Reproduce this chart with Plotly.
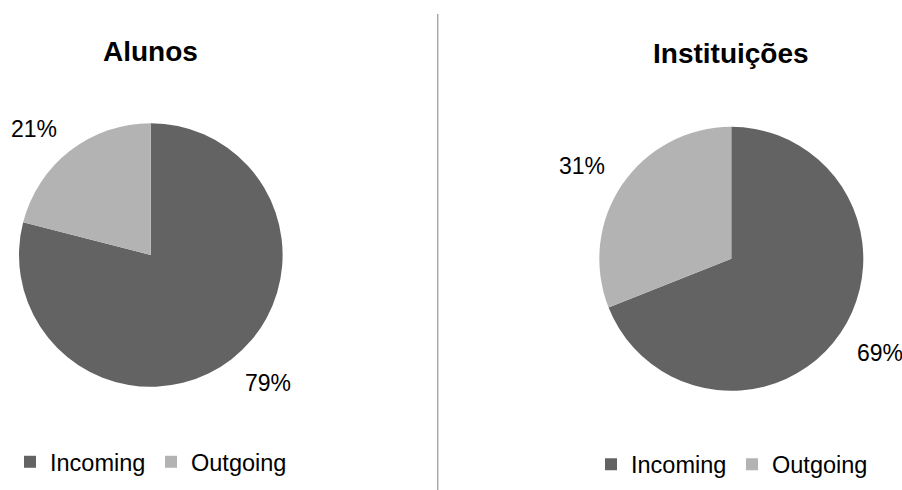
import math
import plotly.graph_objects as go

# ---- data ----
categories = ["Incoming", "Outgoing"]
alunos_values = [79, 21]
instituicoes_values = [69, 31]
titles = ["Alunos", "Instituições"]
colors = ["#636363", "#b3b3b3"]

# ---- layout constants (pixels) ----
W, H = 902, 490
FONT = "Liberation Sans, Arial, sans-serif"
pies = [
    dict(values=alunos_values, labels=categories, cx=150.8, cy=255.0, r=131.8,
         title=titles[0], ty=51, legend="legend", lx=10, ly=462),
    # trailing space keeps the second pie's legend entries separate (renders identically)
    dict(values=instituicoes_values, labels=[c + " " for c in categories], cx=731.3,
         cy=258.8, r=132.0, title=titles[1], ty=54, legend="legend2", lx=591, ly=464.5),
]

fig = go.Figure()
annotations = []
for p in pies:
    cy_up = H - p["cy"]
    fig.add_trace(go.Pie(
        labels=p["labels"], values=p["values"], sort=False, direction="clockwise",
        rotation=0, textinfo="none", hoverinfo="label+percent",
        marker=dict(colors=colors, line=dict(width=0)),
        domain=dict(x=[(p["cx"] - p["r"]) / W, (p["cx"] + p["r"]) / W],
                    y=[(cy_up - p["r"]) / H, (cy_up + p["r"]) / H]),
        legend=p["legend"], showlegend=True,
    ))
    # percentage labels placed outside each slice, from the data
    total = sum(p["values"])
    cum = 0
    gap = 18
    for v in p["values"]:
        mid = (cum + v / 2) / total * 2 * math.pi
        cum += v
        dx, dy = math.sin(mid), math.cos(mid)
        px = p["cx"] + (p["r"] + gap) * dx
        py = cy_up + (p["r"] + gap) * dy
        annotations.append(dict(
            text=f"{round(v / total * 100)}%", x=px / W, y=py / H,
            xref="paper", yref="paper", showarrow=False,
            xanchor="left" if dx > 0 else "right",
            yanchor="top" if dy < 0 else "bottom",
            yshift=5 if dy < 0 else -7,
            font=dict(family=FONT, size=23, color="#000000"),
        ))
    annotations.append(dict(
        text=f"<b>{p['title']}</b>", x=p["cx"] / W, y=(H - p["ty"]) / H,
        xref="paper", yref="paper", showarrow=False, xanchor="center", yanchor="middle",
        font=dict(family=FONT, size=28, color="#000000"),
    ))

legend_common = dict(orientation="h", xanchor="left", yanchor="middle",
                     font=dict(family=FONT, size=23.5, color="#000000"),
                     bgcolor="rgba(0,0,0,0)", itemclick=False, itemdoubleclick=False,
                     traceorder="normal", entrywidth=96, entrywidthmode="pixels")

fig.update_layout(
    width=W, height=H, margin=dict(l=0, r=0, t=0, b=0),
    paper_bgcolor="#ffffff", plot_bgcolor="#ffffff",
    font=dict(family=FONT, color="#000000"),
    annotations=annotations,
    legend=dict(x=pies[0]["lx"] / W, y=(H - pies[0]["ly"]) / H, **legend_common),
    legend2=dict(x=pies[1]["lx"] / W, y=(H - pies[1]["ly"]) / H, **legend_common),
    shapes=[dict(type="line", xref="paper", yref="paper",
                 x0=437.7 / W, x1=437.7 / W, y0=0, y1=(H - 14) / H,
                 line=dict(color="#a8a8a8", width=1.5))],
)

fig.write_html("out.html", config={"displayModeBar": False},
               post_script="document.body.style.margin='0';document.body.style.overflow='hidden';")
